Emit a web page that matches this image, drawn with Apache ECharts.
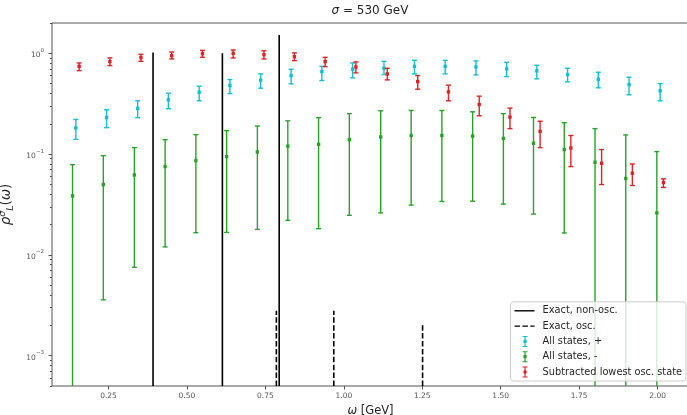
<!DOCTYPE html>
<html>
<head>
<meta charset="utf-8">
<script src="https://cdn.jsdelivr.net/npm/echarts@6/dist/echarts.min.js"></script>
<style>
  html, body { margin: 0; padding: 0; background: #fff; }
  #chart { width: 687px; height: 415px; }
</style>
</head>
<body>
<div id="chart"></div>
<script>
// omega of the data points [GeV]
const omega = [0.146, 0.244, 0.343, 0.441, 0.539, 0.637, 0.735, 0.832, 0.930, 1.028,
               1.128, 1.225, 1.323, 1.421, 1.519, 1.615, 1.713, 1.811, 1.909, 2.008];

// All states, +
const plusMid = [0.182, 0.231, 0.284, 0.346, 0.411, 0.480, 0.541, 0.602, 0.659, 0.695,
                 0.711, 0.743, 0.743, 0.733, 0.701, 0.670, 0.616, 0.553, 0.490, 0.425];
const plusLo  = [0.140, 0.183, 0.230, 0.282, 0.338, 0.399, 0.451, 0.498, 0.537, 0.571,
                 0.616, 0.625, 0.625, 0.611, 0.588, 0.558, 0.521, 0.455, 0.388, 0.338];
const plusHi  = [0.221, 0.275, 0.338, 0.402, 0.472, 0.550, 0.625, 0.695, 0.743, 0.803,
                 0.833, 0.853, 0.853, 0.841, 0.815, 0.761, 0.711, 0.649, 0.579, 0.501];

// All states, -   (lower ends below the axis are clipped)
const minusMid = [0.0385, 0.0499, 0.0621, 0.0752, 0.0863, 0.0945, 0.105, 0.120, 0.125, 0.139,
                  0.148, 0.153, 0.153, 0.151, 0.143, 0.128, 0.111, 0.0830, 0.0573, 0.0261];
const minusLo  = [1e-6, 0.00358, 0.00754, 0.0120, 0.0166, 0.0167, 0.0179, 0.0220, 0.0182, 0.0247,
                  0.0261, 0.0312, 0.0339, 0.0341, 0.0319, 0.0254, 0.0165, 1e-6, 1e-6, 1e-6];
const minusHi  = [0.0787, 0.0966, 0.116, 0.139, 0.156, 0.171, 0.190, 0.214, 0.230, 0.252,
                  0.269, 0.271, 0.271, 0.263, 0.252, 0.231, 0.205, 0.179, 0.155, 0.106];

// Subtracted lowest osc. state
const subMid = [0.743, 0.828, 0.907, 0.949, 0.993, 1.00, 0.971, 0.927, 0.828, 0.733,
                0.625, 0.525, 0.415, 0.311, 0.233, 0.168, 0.115, 0.0811, 0.0646, 0.0523];
const subLo  = [0.674, 0.756, 0.834, 0.880, 0.913, 0.900, 0.880, 0.847, 0.738, 0.640,
                0.545, 0.441, 0.338, 0.240, 0.179, 0.116, 0.0752, 0.0499, 0.0488, 0.0467];
const subHi  = [0.803, 0.901, 0.977, 1.03, 1.07, 1.08, 1.06, 1.01, 0.913, 0.822,
                0.711, 0.602, 0.483, 0.376, 0.286, 0.212, 0.153, 0.111, 0.0798, 0.0568];

// exact spectral lines
const exactOmega = [0.392, 0.613, 0.794];
const exactAmp = [1.02, 1.0, 1.52];
const oscOmega = [0.785, 0.968, 1.251];
const oscAmp = [0.00279, 0.00279, 0.00212];

// ticks
const xTicks = [0.25, 0.5, 0.75, 1.0, 1.25, 1.5, 1.75, 2.0];
const yTicks = [1e-3, 1e-2, 1e-1, 1];
const yMinorTicks = [5e-4, 6e-4, 7e-4, 8e-4, 9e-4,
                     2e-3, 3e-3, 4e-3, 5e-3, 6e-3, 7e-3, 8e-3, 9e-3,
                     2e-2, 3e-2, 4e-2, 5e-2, 6e-2, 7e-2, 8e-2, 9e-2,
                     2e-1, 3e-1, 4e-1, 5e-1, 6e-1, 7e-1, 8e-1, 9e-1, 2];

const X_MIN = 0.07, X_MAX = 2.10;
const Y_MIN = 5e-4, Y_MAX = 2;
const DODGE = 0.0105;

const CYAN = '#17becf', GREEN = '#2ca02c', RED = '#d62728';
const FONT = '"DejaVu Sans", sans-serif';

const chart = echarts.init(document.getElementById('chart'));

function errorBar(params, api) {
  const x = api.value(0);
  const p = api.coord([x, api.value(1)]);
  const lo = api.coord([x, api.value(2)]);
  const hi = api.coord([x, api.value(3)]);
  const color = api.visual('color');
  const st = { stroke: color, lineWidth: 1.4 };
  const cap = 2.5, m = 1.7;
  return {
    type: 'group',
    children: [
      { type: 'line', shape: { x1: p[0], y1: lo[1], x2: p[0], y2: hi[1] }, style: st },
      { type: 'line', shape: { x1: p[0] - cap, y1: hi[1], x2: p[0] + cap, y2: hi[1] }, style: st },
      { type: 'line', shape: { x1: p[0] - cap, y1: lo[1], x2: p[0] + cap, y2: lo[1] }, style: st },
      { type: 'rect', shape: { x: p[0] - m, y: p[1] - m, width: 2 * m, height: 2 * m }, style: { fill: color } }
    ]
  };
}

function stick(dash) {
  return function (params, api) {
    const top = api.coord([api.value(0), api.value(1)]);
    const base = api.coord([api.value(0), Y_MIN]);
    return {
      type: 'line',
      shape: { x1: top[0], y1: base[1], x2: top[0], y2: top[1] },
      style: { stroke: '#000', lineWidth: 1.6, lineDash: dash }
    };
  };
}

const rows = (xs, a, b, c, dx) => xs.map((x, i) => [x + dx, a[i], b[i], c[i]]);

const expText = (n) => (n < 0 ? '−' + (-n) : String(n));

const solidIcon = 'path://M0,0M23,12M0,5.3L20,5.3L20,6.7L0,6.7Z';
const dashIcon = 'path://M0,0M23,12M0,5.3L5.5,5.3L5.5,6.7L0,6.7Z M7.9,5.3L13.4,5.3L13.4,6.7L7.9,6.7Z M15.8,5.3L20,5.3L20,6.7L15.8,6.7Z';
const errIcon = 'path://M0,0M23,12M9.9,1L11.1,1L11.1,11L9.9,11Z M8,0.5L13,0.5L13,1.5L8,1.5Z M8,10.5L13,10.5L13,11.5L8,11.5Z M8.9,4.4L12.1,4.4L12.1,7.6L8.9,7.6Z';

const option = {
  animation: false,
  textStyle: { fontFamily: FONT },
  title: {
    text: '{i|σ} = 530 GeV',
    left: 370,
    textAlign: 'center',
    top: 5,
    padding: 0,
    textStyle: {
      fontFamily: FONT, fontSize: 12, fontWeight: 'normal', color: '#262626',
      rich: { i: { fontFamily: FONT, fontSize: 12, fontStyle: 'italic', color: '#262626' } }
    }
  },
  legend: {
    orient: 'vertical',
    right: 1,
    bottom: 34,
    padding: [3, 4, 3, 4],
    itemWidth: 23,
    itemHeight: 12,
    itemGap: 3.3,
    selectedMode: false,
    backgroundColor: 'rgba(255,255,255,0.8)',
    borderColor: '#cccccc',
    borderWidth: 1,
    borderRadius: 3,
    textStyle: { fontFamily: FONT, fontSize: 9.8, color: '#262626' },
    data: [
      { name: 'Exact, non-osc.', icon: solidIcon },
      { name: 'Exact, osc.', icon: dashIcon },
      { name: 'All states, +', icon: errIcon },
      { name: 'All states, -', icon: errIcon },
      { name: 'Subtracted lowest osc. state', icon: errIcon }
    ]
  },
  grid: {
    left: 52, top: 23, width: 637, height: 363,
    containLabel: false, outerBoundsMode: 'none',
    show: true, borderColor: '#555', borderWidth: 1
  },
  xAxis: {
    type: 'value',
    min: X_MIN,
    max: X_MAX,
    name: '{i|ω} [GeV]',
    nameLocation: 'middle',
    nameGap: 12,
    nameTextStyle: {
      fontFamily: FONT, fontSize: 11.5, color: '#262626',
      rich: { i: { fontFamily: FONT, fontSize: 11.5, fontStyle: 'italic', color: '#262626' } }
    },
    axisLine: { show: false },
    axisTick: { show: true, customValues: xTicks, length: 3.5, lineStyle: { color: '#555' } },
    axisLabel: {
      customValues: xTicks, margin: 6, fontSize: 7.5, color: '#555', fontFamily: FONT,
      formatter: (v) => v.toFixed(2)
    },
    splitLine: { show: false }
  },
  yAxis: [{
    type: 'log',
    logBase: 10,
    min: Y_MIN,
    max: Y_MAX,
    name: '{i|ρ}{s|σ}{l|L}({i|ω})',
    nameLocation: 'middle',
    nameGap: 31,
    nameTextStyle: {
      fontFamily: FONT, fontSize: 13.5, color: '#262626', lineHeight: 18,
      rich: {
        i: { fontFamily: FONT, fontSize: 13.5, fontStyle: 'italic', color: '#262626', lineHeight: 18 },
        s: { fontFamily: FONT, fontSize: 9.5, fontStyle: 'italic', color: '#262626', verticalAlign: 'top', lineHeight: 10 },
        l: { fontFamily: FONT, fontSize: 9.5, fontStyle: 'italic', color: '#262626', verticalAlign: 'bottom', lineHeight: 10 }
      }
    },
    axisLine: { show: false },
    axisTick: { show: true, customValues: yTicks, length: 3.5, lineStyle: { color: '#555' } },
    axisLabel: {
      customValues: yTicks, margin: 8, color: '#555',
      formatter: (v) => '{b|10}{e|' + expText(Math.round(Math.log10(v))) + '}',
      rich: {
        b: { fontFamily: FONT, fontSize: 7.5, color: '#555', lineHeight: 12, verticalAlign: 'bottom' },
        e: { fontFamily: FONT, fontSize: 5.5, color: '#555', lineHeight: 8, verticalAlign: 'top' }
      }
    },
    splitLine: { show: false }
  }, {
    type: 'log',
    logBase: 10,
    min: Y_MIN,
    max: Y_MAX,
    position: 'left',
    axisLine: { show: false },
    axisTick: { show: true, customValues: yMinorTicks, length: 2, lineStyle: { color: '#555' } },
    axisLabel: { show: false },
    splitLine: { show: false }
  }],
  series: [
    {
      name: 'Exact, non-osc.', type: 'custom', clip: true, renderItem: stick(null),
      itemStyle: { color: '#000' },
      data: exactOmega.map((x, i) => [x, exactAmp[i]])
    },
    {
      name: 'Exact, osc.', type: 'custom', clip: true, renderItem: stick([5.5, 2.4]),
      itemStyle: { color: '#000' },
      data: oscOmega.map((x, i) => [x, oscAmp[i]])
    },
    {
      name: 'All states, +', type: 'custom', clip: true, renderItem: errorBar,
      itemStyle: { color: CYAN },
      data: rows(omega, plusMid, plusLo, plusHi, 0)
    },
    {
      name: 'All states, -', type: 'custom', clip: true, renderItem: errorBar,
      itemStyle: { color: GREEN },
      data: rows(omega, minusMid, minusLo, minusHi, -DODGE)
    },
    {
      name: 'Subtracted lowest osc. state', type: 'custom', clip: true, renderItem: errorBar,
      itemStyle: { color: RED },
      data: rows(omega, subMid, subLo, subHi, DODGE)
    }
  ]
};

chart.setOption(option);
window.addEventListener('resize', () => chart.resize());
</script>
</body>
</html>
